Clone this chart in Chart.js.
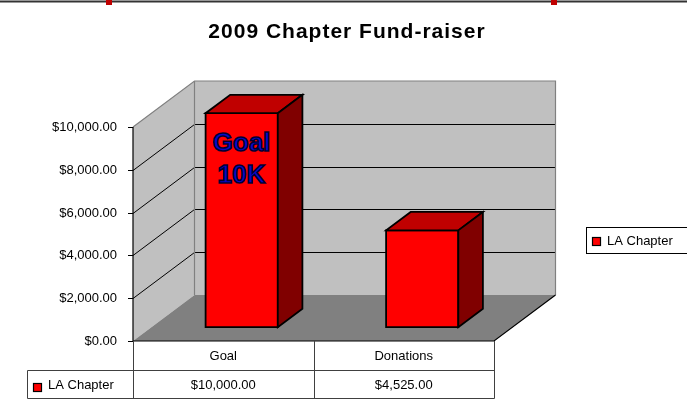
<!DOCTYPE html>
<html><head><meta charset="utf-8">
<script src="https://cdn.jsdelivr.net/npm/chart.js@4/dist/chart.umd.min.js"></script>
<style>html,body{margin:0;padding:0;background:#fff;overflow:hidden}#wrap{width:687px;height:417px;position:relative}</style>
</head><body><div id="wrap"><canvas id="c" width="687" height="417"></canvas></div>
<script>
// ---- data ----
const chartTitle = '2009 Chapter Fund-raiser';
const categories = ['Goal', 'Donations'];
const seriesName = 'LA Chapter';
const seriesValues = [10000, 4525];
const yTickMin = 0, yTickMax = 10000, yTickStep = 2000;
const barNote = ['Goal', '10K'];

// ---- style ----
const FONT = '"Liberation Sans", Arial, sans-serif';
const DX = 61.5, DY = -46;      // 3D depth offset
const F0 = 0.3, F1 = 0.7;       // bar depth band
function money(v){ return '$' + v.toLocaleString('en-US',{minimumFractionDigits:2, maximumFractionDigits:2}); }
function poly(ctx, pts, fill, stroke, lw){
  ctx.beginPath(); ctx.moveTo(pts[0][0], pts[0][1]);
  for (let i=1;i<pts.length;i++) ctx.lineTo(pts[i][0], pts[i][1]);
  ctx.closePath();
  if (fill){ ctx.fillStyle = fill; ctx.fill(); }
  if (stroke){ ctx.strokeStyle = stroke; ctx.lineWidth = lw||1; ctx.lineJoin='miter'; ctx.stroke(); }
}
function pline(ctx, pts, stroke, lw){
  ctx.beginPath(); ctx.moveTo(pts[0][0], pts[0][1]);
  for (let i=1;i<pts.length;i++) ctx.lineTo(pts[i][0], pts[i][1]);
  ctx.strokeStyle = stroke; ctx.lineWidth = lw||1; ctx.stroke();
}

const excel3d = {
  id: 'excel3d',
  beforeDatasetsDraw(chart){
    const ctx = chart.ctx, a = chart.chartArea, ys = chart.scales.y;
    const L = a.left, R = a.right, T = a.top, B = a.bottom;
    ctx.save();
    ctx.fillStyle = '#c0c0c0';
    ctx.fillRect(L+DX, T+DY, R-L, B-T);
    poly(ctx, [[L,B],[L,T],[L+DX,T+DY],[L+DX,B+DY]], '#c0c0c0');
    poly(ctx, [[L,B],[R,B],[R+DX,B+DY],[L+DX,B+DY]], '#808080');
    ys.ticks.forEach(t => {
      if (t.value === yTickMin || t.value === yTickMax) return;
      const py = Math.round(ys.getPixelForValue(t.value)) + 0.5;
      pline(ctx, [[L,py],[L+DX,py+DY],[R+DX,py+DY]], '#000', 1);
    });
    pline(ctx, [[L,T],[L+DX,T+DY],[R+DX,T+DY],[R+DX,B+DY]], '#808080', 1.2);
    pline(ctx, [[L+DX,T+DY],[L+DX,B+DY]], '#808080', 1.2);
    pline(ctx, [[L,B],[R,B],[R+DX,B+DY]], '#000', 1.2);
    pline(ctx, [[L,T],[L,B]], '#000', 1.2);
    ctx.font = '13px ' + FONT;
    ctx.fillStyle = '#000';
    ctx.textAlign = 'right';
    ctx.textBaseline = 'middle';
    ys.ticks.forEach(t => {
      const py = Math.round(ys.getPixelForValue(t.value)) + 0.5;
      pline(ctx, [[L-5,py],[L,py]], '#000', 1);
      ctx.fillText(money(t.value), L-16, py);
    });
    ctx.restore();
  },
  afterDatasetsDraw(chart){
    const ctx = chart.ctx;
    const meta = chart.getDatasetMeta(0);
    ctx.save();
    const ddx = DX*(F1-F0), ddy = DY*(F1-F0);
    meta.data.forEach((bar, i) => {
      const w = bar.width;
      const x0 = bar.x - w/2 + DX*F0, x1 = x0 + w;
      const yt = bar.y + DY*F0, yb = bar.base + DY*F0;
      poly(ctx, [[x0,yt],[x1,yt],[x1,yb],[x0,yb]], '#ff0000', '#000', 1.8);
      poly(ctx, [[x0,yt],[x1,yt],[x1+ddx,yt+ddy],[x0+ddx,yt+ddy]], '#c00000', '#000', 1.8);
      poly(ctx, [[x1,yt],[x1+ddx,yt+ddy],[x1+ddx,yb+ddy],[x1,yb]], '#800000', '#000', 1.8);
      if (i === 0){
        const cx = (x0+x1)/2;
        ctx.font = 'bold 26px ' + FONT;
        ctx.textAlign = 'center';
        ctx.textBaseline = 'alphabetic';
        ctx.lineWidth = 1.6;
        ctx.strokeStyle = '#000030';
        ctx.fillStyle = '#0808c8';
        barNote.forEach((s, k) => {
          const by = yt + 38 + k*32;
          ctx.fillText(s, cx, by);
          ctx.strokeText(s, cx, by);
        });
      }
    });
    ctx.restore();
  },
  afterDraw(chart){
    const ctx = chart.ctx, a = chart.chartArea, xs = chart.scales.x;
    const L = a.left, R = a.right, B = a.bottom;
    ctx.save();
    ctx.fillStyle = '#333';
    ctx.fillRect(0, 0.5, chart.width, 2);
    ctx.fillStyle = '#c00000';
    ctx.fillRect(106, 0, 6, 5);
    ctx.fillRect(551, 0, 6, 5);
    ctx.fillStyle = '#000';
    ctx.font = 'bold 21px ' + FONT;
    ctx.letterSpacing = '1px';
    ctx.textAlign = 'center';
    ctx.textBaseline = 'alphabetic';
    ctx.fillText(chartTitle, 347, 38);
    ctx.letterSpacing = '0px';
    const r1 = B + 29.5, r2 = B + 57.5, lx = 27.5;
    const mid = Math.round((xs.getPixelForValue(0) + xs.getPixelForValue(1))/2) + 0.5;
    pline(ctx, [[L+0.5,B],[L+0.5,r2]], '#404040', 1);
    pline(ctx, [[mid,B],[mid,r2]], '#404040', 1);
    pline(ctx, [[R+0.5,B],[R+0.5,r2]], '#404040', 1);
    pline(ctx, [[lx,r1],[R+0.5,r1]], '#404040', 1);
    pline(ctx, [[lx,r2],[R+0.5,r2]], '#404040', 1);
    pline(ctx, [[lx,r1],[lx,r2]], '#404040', 1);
    ctx.font = '13px ' + FONT;
    ctx.fillStyle = '#000';
    ctx.textAlign = 'center';
    ctx.textBaseline = 'middle';
    categories.forEach((c, i) => {
      const px = xs.getPixelForValue(i);
      ctx.fillText(c, px, B + 15);
      ctx.fillText(money(seriesValues[i]), px, B + 44);
    });
    ctx.fillStyle = '#ff0000';
    ctx.fillRect(33.5, 383.5, 8, 8);
    ctx.strokeStyle = '#000'; ctx.lineWidth = 1.2;
    ctx.strokeRect(33.5, 383.5, 8, 8);
    ctx.fillStyle = '#000';
    ctx.textAlign = 'left';
    ctx.fillText(seriesName, 48, B + 44);
    ctx.strokeStyle = '#000'; ctx.lineWidth = 1;
    ctx.strokeRect(586.5, 227.5, 120, 26);
    ctx.fillStyle = '#ff0000';
    ctx.fillRect(592.5, 237.5, 8, 8);
    ctx.lineWidth = 1.2;
    ctx.strokeRect(592.5, 237.5, 8, 8);
    ctx.fillStyle = '#000';
    ctx.fillText(seriesName, 607, 241);
    ctx.restore();
  }
};

new Chart(document.getElementById('c'), {
  type: 'bar',
  data: {
    labels: categories,
    datasets: [{
      label: seriesName,
      data: seriesValues,
      backgroundColor: 'rgba(0,0,0,0)',
      borderWidth: 0,
      barPercentage: 0.4,
      categoryPercentage: 1.0
    }]
  },
  options: {
    responsive: false,
    animation: false,
    devicePixelRatio: 1,
    layout: { padding: { left: 133, right: 193, top: 127, bottom: 76 } },
    plugins: { legend: { display: false }, title: { display: false }, tooltip: { enabled: false } },
    scales: {
      x: { display: false },
      y: { display: false, min: yTickMin, max: yTickMax, ticks: { stepSize: yTickStep } }
    }
  },
  plugins: [excel3d]
});
</script>
</body></html>
